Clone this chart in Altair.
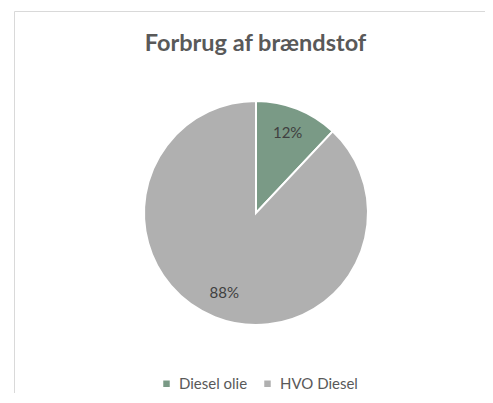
import altair as alt
import pandas as pd

categories = ["Diesel olie", "HVO Diesel"]
values = [12, 88]
labels = ["12%", "88%"]
colors = ["#7A9A86", "#B0B0B0"]

df = pd.DataFrame({"cat": categories, "val": values, "label": labels, "order": [0, 1]})

W, H = 477, 385
cx, cy = 248, 205
R = 112

border = alt.Chart(pd.DataFrame({"a": [0]})).mark_rect(
    fill=None, stroke="#D9D9D9", strokeWidth=1
).encode(x=alt.value(6.5), x2=alt.value(520), y=alt.value(3.5), y2=alt.value(420))

color = alt.Color(
    "cat:N",
    scale=alt.Scale(domain=categories, range=colors),
    legend=alt.Legend(
        title=None,
        orient="none",
        direction="horizontal",
        legendX=151,
        legendY=368,
        symbolType="square",
        symbolSize=42,
        symbolStrokeWidth=0,
        labelFont="Lato",
        labelFontSize=15,
        labelColor="#595959",
        labelOffset=5,
        columnPadding=12,
    ),
)

base = alt.Chart(df).encode(
    theta=alt.Theta("val:Q", stack=True),
    order=alt.Order("order:Q"),
)

pie = base.mark_arc(radius=R, stroke="white", strokeWidth=2).encode(
    color=color, x=alt.value(cx), y=alt.value(cy)
)

text = base.mark_text(
    radius=86, font="Lato", fontSize=15, color="#404040"
).encode(text="label:N", x=alt.value(cx), y=alt.value(cy))

chart = alt.layer(border, pie, text).properties(
    width=W,
    height=H,
    autosize=alt.AutoSizeParams(type="none"),
    padding=0,
    title=alt.TitleParams(
        "Forbrug af brændstof",
        font="Lato",
        fontSize=23.5,
        fontWeight="bold",
        color="#595959",
        anchor="middle",
        baseline="alphabetic",
        offset=0,
        dx=9,
        dy=66,
    ),
).configure_view(stroke=None)

chart.save("out.html", embed_options={"renderer": "svg", "actions": False})
